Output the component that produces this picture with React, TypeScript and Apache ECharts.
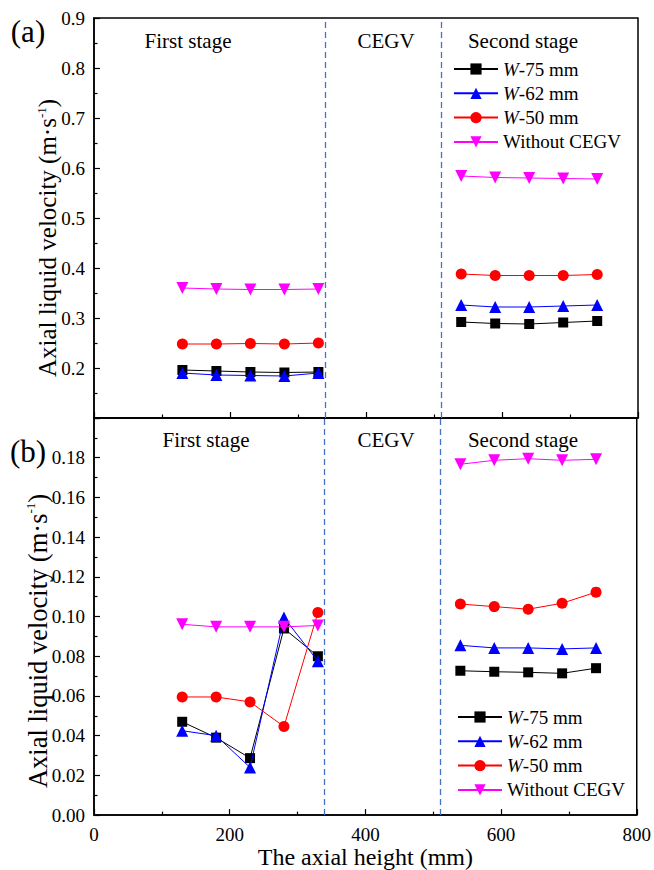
import React, { useEffect, useRef } from "react";
import * as echarts from "echarts";

// Axial positions of the measurement points (mm)
const xFirst = [130, 180, 230, 280, 330];
const xSecond = [540, 590, 640, 690, 740];

const seriesNames = ["W-75 mm", "W-62 mm", "W-50 mm", "Without CEGV"];

// (a) axial liquid velocity, m/s
const aW75First = [0.196, 0.194, 0.192, 0.191, 0.192];
const aW75Second = [0.292, 0.289, 0.288, 0.291, 0.294];
const aW62First = [0.19, 0.186, 0.185, 0.184, 0.19];
const aW62Second = [0.326, 0.322, 0.322, 0.324, 0.326];
const aW50First = [0.248, 0.248, 0.249, 0.248, 0.25];
const aW50Second = [0.388, 0.385, 0.385, 0.385, 0.387];
const aNoneFirst = [0.36, 0.358, 0.357, 0.357, 0.358];
const aNoneSecond = [0.584, 0.581, 0.58, 0.579, 0.578];

// (b) axial liquid velocity, m/s
const bW75First = [0.047, 0.039, 0.0287, 0.094, 0.08];
const bW75Second = [0.0727, 0.0722, 0.0719, 0.0714, 0.074];
const bW62First = [0.0425, 0.04, 0.024, 0.0995, 0.0775];
const bW62Second = [0.0855, 0.0842, 0.0842, 0.0837, 0.0842];
const bW50First = [0.0595, 0.0595, 0.057, 0.0446, 0.102];
const bW50Second = [0.1063, 0.105, 0.1037, 0.1067, 0.1123];
const bNoneFirst = [0.0961, 0.0948, 0.0948, 0.0948, 0.0955];
const bNoneSecond = [0.1767, 0.1787, 0.1795, 0.1787, 0.1792];

// Boundaries of the CEGV section (mm)
const cegvBounds = [340, 510];

const xTicks = { min: 0, max: 800, interval: 200 };
const yTicksA = { min: 0.1, max: 0.9, interval: 0.1 };
const yTicksB = { min: 0, max: 0.2, interval: 0.02 };

const FONT = "Liberation Serif";

const styles = [
  { color: "#000000", symbol: "rect", size: 10 },
  { color: "#0000ff", symbol: "triangle", size: 12 },
  { color: "#ff0000", symbol: "circle", size: 11 },
  { color: "#ff00ff", symbol: "path://M0,0L10,0L5,8.66Z", size: 12 },
];

const zip = (xs: number[], ys: number[]) => xs.map((x, i) => [x, ys[i]]);

export default function App() {
  const ref = useRef<HTMLDivElement>(null);

  useEffect(() => {
    if (!ref.current) return;
    const chart = echarts.init(ref.current, null, { renderer: "svg" });

    const panels = [
      [
        [aW75First, aW75Second],
        [aW62First, aW62Second],
        [aW50First, aW50Second],
        [aNoneFirst, aNoneSecond],
      ],
      [
        [bW75First, bW75Second],
        [bW62First, bW62Second],
        [bW50First, bW50Second],
        [bNoneFirst, bNoneSecond],
      ],
    ];

    const series: any[] = [];
    panels.forEach((panel, p) => {
      panel.forEach((pair, k) => {
        const st = styles[k];
        [xFirst, xSecond].forEach((xs, s) => {
          series.push({
            type: "line",
            name: seriesNames[k],
            xAxisIndex: p,
            yAxisIndex: p,
            data: zip(xs, pair[s]),
            symbol: st.symbol,
            symbolSize: st.size,
            lineStyle: { color: st.color, width: 1 },
            itemStyle: { color: st.color },
            z: 3 + k,
            markLine:
              k === 0 && s === 0
                ? {
                    silent: true,
                    symbol: "none",
                    label: { show: false },
                    lineStyle: { color: "#4472c4", type: [6, 4], width: 1.3 },
                    data: cegvBounds.map((v) => ({ xAxis: v })),
                  }
                : undefined,
          });
        });
      });
    });

    const axisLine = { lineStyle: { color: "#000", width: 1.5 } };
    const axisTick = { inside: true, length: 6, lineStyle: { color: "#000", width: 1.2 } };
    const minorTick = { show: true, splitNumber: 2, length: 3.5, lineStyle: { color: "#000", width: 1.2 } };
    const labelStyle = { fontFamily: FONT, fontSize: 19, color: "#000" };

    const legendBase = {
      orient: "vertical",
      padding: 0,
      itemWidth: 44,
      itemHeight: 14,
      itemGap: 4.3,
      data: seriesNames,
      selectedMode: false,
      formatter: (name: string) =>
        name.startsWith("W-") ? "{i|W}" + name.slice(1) : name,
      textStyle: {
        fontFamily: FONT,
        fontSize: 19,
        lineHeight: 20,
        color: "#000",
        rich: {
          i: { fontFamily: FONT, fontSize: 19, fontStyle: "italic", color: "#000" },
        },
      },
    };

    const stageText = (x: number, y: number, text: string) => ({
      type: "text",
      x,
      y,
      style: {
        text,
        fontFamily: FONT,
        fontSize: 21,
        fill: "#000",
        align: "center",
        verticalAlign: "middle",
      },
    });

    const yName = (x: number, y: number, size: number) => ({
      type: "text",
      x,
      y,
      rotation: Math.PI / 2,
      style: {
        text: "Axial liquid velocity (m·s{sup|-1})",
        fontFamily: FONT,
        fontSize: size,
        fill: "#000",
        align: "center",
        verticalAlign: "middle",
        rich: {
          sup: { fontFamily: FONT, fontSize: Math.round(size / 2), verticalAlign: "top", fill: "#000" },
        },
      },
    });

    chart.setOption({
      animation: false,
      backgroundColor: "#fff",
      textStyle: { fontFamily: FONT },
      grid: [
        { left: 94, top: 18, width: 544, height: 400, show: true, borderColor: "#000", borderWidth: 1.5 },
        { left: 94, top: 418, width: 544, height: 400, show: true, borderColor: "#000", borderWidth: 1.5 },
      ],
      xAxis: [
        {
          gridIndex: 0,
          type: "value",
          ...xTicks,
          axisLine,
          axisTick,
          minorTick,
          splitLine: { show: false },
          axisLabel: { show: false },
        },
        {
          gridIndex: 1,
          type: "value",
          ...xTicks,
          axisLine,
          axisTick,
          minorTick,
          splitLine: { show: false },
          axisLabel: { ...labelStyle, margin: 10 },
          name: "The axial height (mm)",
          nameLocation: "middle",
          nameGap: 26,
          nameTextStyle: { fontFamily: FONT, fontSize: 24, color: "#000" },
        },
      ],
      yAxis: [
        {
          gridIndex: 0,
          type: "value",
          ...yTicksA,
          axisLine,
          axisTick,
          minorTick,
          splitLine: { show: false },
          axisLabel: {
            ...labelStyle,
            margin: 9,
            showMinLabel: false,
            formatter: (v: number) => v.toFixed(1),
          },
        },
        {
          gridIndex: 1,
          type: "value",
          ...yTicksB,
          axisLine,
          axisTick,
          minorTick,
          splitLine: { show: false },
          axisLabel: {
            ...labelStyle,
            margin: 9,
            showMaxLabel: false,
            formatter: (v: number) => v.toFixed(2),
          },
        },
      ],
      legend: [
        { ...legendBase, left: 453, top: 59 },
        { ...legendBase, left: 457, top: 707 },
      ],
      graphic: [
        stageText(188, 41, "First stage"),
        stageText(386, 41, "CEGV"),
        stageText(523, 41, "Second stage"),
        stageText(206, 440, "First stage"),
        stageText(386, 440, "CEGV"),
        stageText(523, 440, "Second stage"),
        {
          type: "text",
          x: 28,
          y: 31,
          style: { text: "(a)", fontFamily: FONT, fontSize: 31, fill: "#000", align: "center", verticalAlign: "middle" },
        },
        {
          type: "text",
          x: 28,
          y: 451,
          style: { text: "(b)", fontFamily: FONT, fontSize: 31, fill: "#000", align: "center", verticalAlign: "middle" },
        },
        yName(47, 238, 25),
        yName(37.5, 641, 26.5),
      ],
      series,
    });

    return () => chart.dispose();
  }, []);

  return (
    <div
      ref={ref}
      style={{ position: "absolute", left: 0, top: 0, width: 654, height: 870 }}
    />
  );
}
